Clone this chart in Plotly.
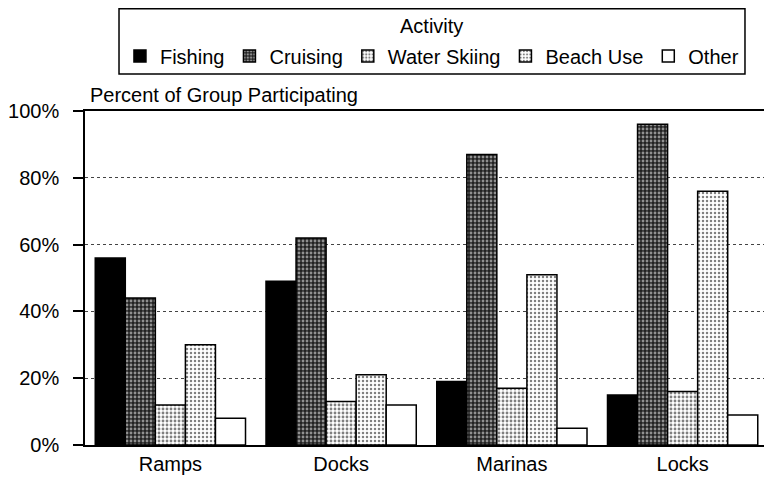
import plotly.graph_objects as go

categories = ['Ramps', 'Docks', 'Marinas', 'Locks']
activities = ['Fishing', 'Cruising', 'Water Skiing', 'Beach Use', 'Other']

fishing      = [56, 49, 19, 15]
cruising     = [44, 62, 87, 96]
water_skiing = [12, 13, 17, 16]
beach_use    = [30, 21, 51, 76]
other        = [8, 12, 5, 9]

y_ticks = [0, 20, 40, 60, 80, 100]
y_labels = ['0%', '20%', '40%', '60%', '80%', '100%']

_FAMILY = 'Liberation Sans, Arial, sans-serif'
_FONT = dict(family=_FAMILY, size=20, color='black')

# halftone-ish fills per activity
_STYLE = {
    'Fishing':      dict(color='black', pattern=None),
    'Cruising':     dict(color='#222', pattern=dict(shape='.', fgcolor='white', bgcolor='#222', size=4, solidity=0.4)),
    'Water Skiing': dict(color='white', pattern=dict(shape='.', fgcolor='black', bgcolor='white', size=4, solidity=0.4)),
    'Beach Use':    dict(color='white', pattern=dict(shape='.', fgcolor='black', bgcolor='white', size=4, solidity=0.3)),
    'Other':        dict(color='white', pattern=None),
}

series = [fishing, cruising, water_skiing, beach_use, other]

fig = go.Figure()
for name, vals in zip(activities, series):
    st = _STYLE[name]
    marker = dict(color=st['color'], line=dict(color='black', width=1.5))
    if st['pattern']:
        marker['pattern'] = st['pattern']
    fig.add_trace(go.Bar(x=categories, y=vals, name=name, marker=marker))

# page body adds an 8px offset, so the figure is a bit smaller than the window
fig.update_layout(
    width=764, height=471,
    barmode='group', bargap=0.12, bargroupgap=0,
    paper_bgcolor='white', plot_bgcolor='white',
    font=_FONT,
    margin=dict(l=77, r=4, t=103, b=34, autoexpand=False),
    showlegend=True,
    legend=dict(
        orientation='h',
        x=0.508, xanchor='center',
        yref='container', y=0.898, yanchor='middle',
        bgcolor='rgba(0,0,0,0)', borderwidth=0,
        font=_FONT,
        itemwidth=30,
        tracegroupgap=0,
    ),
    shapes=[dict(
        type='rect', xref='paper', yref='paper',
        x0=0.0498, x1=0.9663, y0=1.111, y1=1.306,
        line=dict(color='black', width=1.5),
    )],
    annotations=[
        dict(
            text='Activity',
            xref='paper', yref='paper', x=0.508, y=1.254,
            xanchor='center', yanchor='middle',
            showarrow=False, font=_FONT,
        ),
        dict(
            text='Percent of Group Participating',
            xref='paper', yref='paper', x=0.004, y=1.0,
            xanchor='left', yanchor='bottom', yshift=3,
            showarrow=False, font=_FONT,
        ),
    ],
)

fig.update_yaxes(
    range=[0, 100], tickvals=y_ticks, ticktext=y_labels,
    ticks='outside', ticklen=10, tickcolor='black', tickwidth=1.5,
    ticklabelstandoff=10,
    showline=True, linecolor='black', linewidth=1.5,
    showgrid=True, gridcolor='#444', griddash='dot', gridwidth=1,
    zeroline=False, automargin=False,
)
fig.update_xaxes(
    showline=True, linecolor='black', linewidth=1.5, mirror=True,
    ticks='', showgrid=False, automargin=False,
)

fig.write_html('out.html')
